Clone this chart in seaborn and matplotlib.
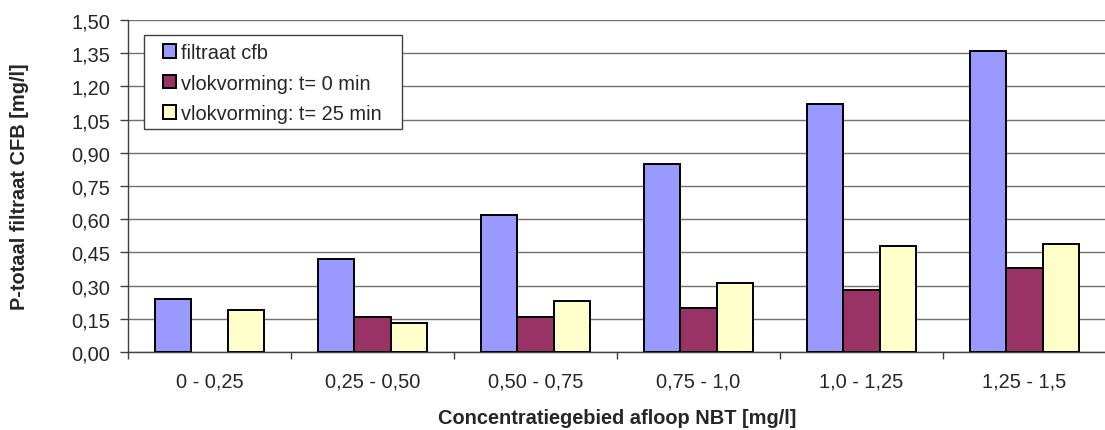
import numpy as np
import pandas as pd
import matplotlib
matplotlib.use("Agg")
import matplotlib.pyplot as plt
import seaborn as sns
from matplotlib.patches import Patch, Rectangle
from matplotlib.ticker import FixedLocator, FuncFormatter

categories = ["0 - 0,25", "0,25 - 0,50", "0,50 - 0,75", "0,75 - 1,0", "1,0 - 1,25", "1,25 - 1,5"]
series_names = ["filtraat cfb", "vlokvorming: t= 0 min", "vlokvorming: t= 25 min"]
filtraat_cfb = [0.24, 0.42, 0.62, 0.85, 1.12, 1.36]
vlok_t0 = [np.nan, 0.16, 0.16, 0.20, 0.28, 0.38]
vlok_t25 = [0.19, 0.13, 0.23, 0.31, 0.48, 0.49]
colors = ["#9999FF", "#993366", "#FFFFCC"]
y_ticks = [0.00, 0.15, 0.30, 0.45, 0.60, 0.75, 0.90, 1.05, 1.20, 1.35, 1.50]

rows = []
for name, vals in zip(series_names, [filtraat_cfb, vlok_t0, vlok_t25]):
    for c, v in zip(categories, vals):
        rows.append({"cat": c, "series": name, "value": v})
df = pd.DataFrame(rows)

sns.set_style("white")
plt.rcParams["font.family"] = ["Liberation Sans", "DejaVu Sans"]
FS = 14.4

W, H = 1105, 431
fig = plt.figure(figsize=(W / 100, H / 100), dpi=100)
ax_l, ax_r, ax_t, ax_b = 128, 1106, 21, 353
ax = fig.add_axes([ax_l / W, 1 - ax_b / H, (ax_r - ax_l) / W, (ax_b - ax_t) / H])

sns.barplot(data=df, x="cat", y="value", hue="series", order=categories,
            hue_order=series_names, palette=colors, width=3 / 4.5,
            errorbar=None, edgecolor="black", linewidth=1.4, saturation=1,
            ax=ax, zorder=3)

ax.set_xlim(-0.5, 5.5)
ax.set_ylim(0, 1.5)
ax.yaxis.set_major_locator(FixedLocator(y_ticks))
ax.yaxis.set_major_formatter(FuncFormatter(lambda v, p: f"{v:.2f}".replace(".", ",")))
ax.grid(axis="y", color="#707070", linewidth=1.0, zorder=0)
ax.set_axisbelow(True)

for s in ["top", "right"]:
    ax.spines[s].set_visible(False)
for s in ["left", "bottom"]:
    ax.spines[s].set_color("#404040")
    ax.spines[s].set_linewidth(1.0)

ax.set_xticks(range(len(categories)))
ax.set_xticklabels(categories)
ax.set_xticks(np.arange(-0.5, 6.0, 1.0), minor=True)
ax.tick_params(axis="x", which="major", length=0, pad=14, labelsize=FS)
ax.tick_params(axis="x", which="minor", length=5, width=1, color="#404040", direction="out", bottom=True)
ax.tick_params(axis="y", which="major", length=6, width=1, color="#404040", direction="out", left=True, pad=7, labelsize=FS)

ax.set_xlabel("Concentratiegebied afloop NBT [mg/l]", fontsize=FS, fontweight="bold", labelpad=13)
ax.set_ylabel("P-totaal filtraat CFB [mg/l]", fontsize=FS, fontweight="bold")
ax.yaxis.set_label_coords((29 - ax_l) / (ax_r - ax_l), 0.5)

if ax.get_legend() is not None:
    ax.get_legend().remove()

# legend frame
fig.patches.append(Rectangle((144 / W, 1 - 130 / H), (402 - 144) / W, (130 - 36) / H,
                             transform=fig.transFigure, facecolor="white",
                             edgecolor="#404040", linewidth=1.0, zorder=4))
handles = [Patch(facecolor=c, edgecolor="black", linewidth=1.4) for c in colors]
leg = fig.legend(handles, series_names, loc="upper left",
                 bbox_to_anchor=(163 / W, 1 - 44 / H), borderaxespad=0, borderpad=0,
                 fontsize=FS, handlelength=0.66, handleheight=0.66,
                 handletextpad=0.25, labelspacing=0.58, frameon=False)
leg.set_zorder(6)

fig.savefig("out.png", dpi=100)
